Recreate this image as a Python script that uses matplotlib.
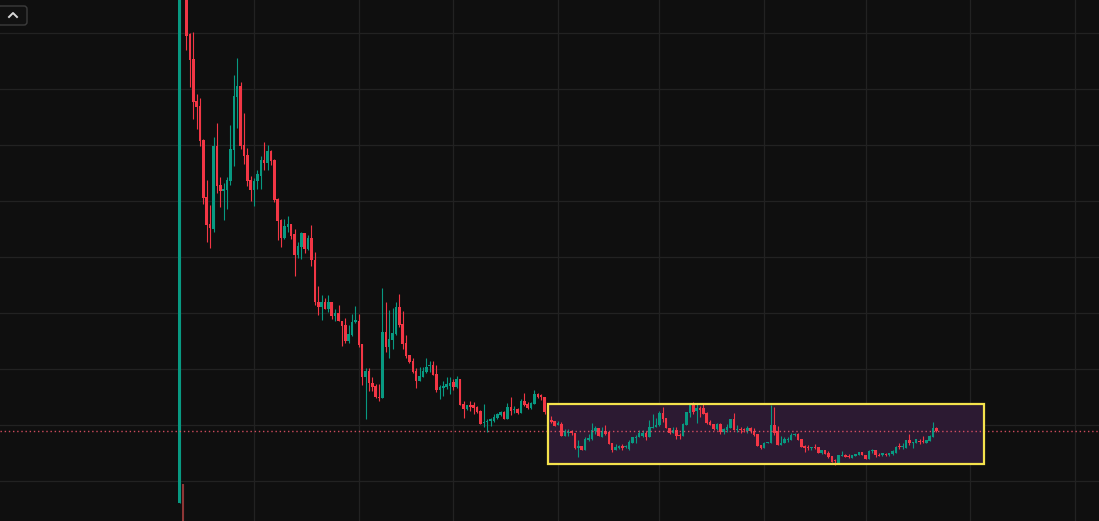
import numpy as np
import pandas as pd
import matplotlib
matplotlib.use('Agg')
import matplotlib.pyplot as plt
import matplotlib.dates as mdates
import matplotlib.patches as mpatches
import matplotlib.lines as mlines
from matplotlib.transforms import IdentityTransform

# daily candles, first one on 2022-12-10 (price in chart units)
start_date = '2022-12-10'
opens = [18, 37, 526, 487, 462, 420, 415, 381, 324, 297, 292, 375, 336, 330, 331, 340, 371, 424, 435, 376,
         366, 341, 331, 340, 345, 361, 358, 370, 361, 322, 301, 283, 294, 297, 287, 266, 274, 288, 272, 283,
         261, 219, 214, 219, 212, 219, 205, 208, 200, 196, 180, 186, 199, 200, 177, 144, 150, 138, 135, 124,
         123, 189, 174, 181, 187, 214, 197, 178, 166, 160, 150, 140, 144, 149, 155, 156, 147, 131, 133, 134,
         135, 139, 134, 142, 117, 112, 116, 116, 114, 110, 98, 99, 100, 100, 103, 106, 109, 102, 114, 111,
         112, 108, 120, 117, 113, 117, 127, 126, 124, 110, 101, 100, 96, 97, 85, 88, 90, 88, 73, 75,
         71, 81, 82, 90, 93, 84, 90, 89, 78, 71, 73, 75, 74, 72, 78, 83, 84, 85, 88, 84,
         93, 94, 96, 108, 103, 93, 88, 91, 86, 85, 96, 108, 116, 110, 113, 113, 108, 99, 97, 92,
         97, 89, 91, 93, 102, 91, 92, 92, 90, 93, 90, 87, 76, 73, 78, 78, 96, 90, 76, 78,
         81, 81, 86, 87, 82, 75, 74, 73, 74, 74, 68, 71, 68, 65, 61, 58, 65, 66, 65, 63,
         65, 66, 69, 66, 62, 70, 71, 66, 66, 67, 66, 67, 68, 75, 74, 73, 81, 78, 78, 80,
         80, 78, 80, 84, 93]
highs = [560, 37, 530, 488, 489, 427, 423, 382, 341, 316, 384, 398, 344, 338, 344, 396, 446, 463, 439, 408,
         373, 345, 343, 351, 365, 379, 376, 371, 362, 323, 302, 302, 305, 297, 292, 279, 289, 288, 286, 296,
         269, 235, 226, 223, 226, 219, 212, 216, 200, 203, 196, 207, 215, 207, 177, 153, 153, 144, 137, 137,
         233, 219, 211, 213, 219, 227, 210, 186, 166, 163, 153, 154, 154, 163, 160, 160, 156, 136, 140, 144,
         144, 142, 145, 142, 120, 116, 120, 119, 115, 111, 117, 102, 103, 107, 108, 110, 110, 118, 124, 115,
         113, 122, 128, 119, 119, 131, 128, 127, 124, 110, 105, 100, 100, 99, 92, 92, 91, 88, 81, 75,
         84, 87, 98, 95, 93, 94, 96, 89, 78, 77, 76, 77, 76, 81, 84, 86, 91, 91, 90, 101,
         107, 103, 110, 114, 103, 93, 94, 94, 88, 98, 109, 118, 119, 118, 115, 118, 109, 101, 97, 98,
         98, 93, 97, 102, 108, 96, 94, 93, 95, 94, 93, 87, 76, 79, 79, 116, 114, 95, 85, 84,
         84, 88, 88, 88, 82, 76, 76, 74, 77, 74, 71, 71, 70, 65, 62, 66, 70, 67, 67, 66,
         67, 69, 69, 66, 71, 72, 71, 68, 68, 68, 68, 71, 75, 78, 78, 81, 87, 79, 82, 82,
         85, 81, 86, 99, 94]
lows = [18, -30, 471, 434, 402, 392, 375, 317, 279, 273, 289, 328, 314, 301, 312, 336, 355, 393, 372, 357,
        335, 320, 315, 332, 332, 351, 351, 356, 319, 281, 274, 282, 289, 282, 245, 263, 262, 268, 271, 255,
        216, 206, 201, 212, 209, 202, 200, 200, 175, 178, 178, 185, 198, 174, 136, 102, 130, 130, 123, 120,
        123, 169, 163, 172, 186, 194, 172, 163, 158, 148, 133, 140, 144, 148, 149, 146, 129, 122, 125, 132,
        127, 131, 133, 116, 103, 111, 110, 107, 108, 97, 94, 89, 95, 99, 102, 105, 102, 102, 106, 108,
        107, 108, 115, 112, 112, 117, 123, 121, 107, 99, 98, 95, 96, 85, 85, 85, 86, 72, 64, 71,
        71, 80, 81, 87, 85, 84, 86, 77, 69, 71, 72, 71, 73, 71, 78, 78, 84, 84, 81, 84,
        93, 94, 95, 99, 93, 87, 88, 82, 82, 85, 96, 104, 107, 98, 104, 107, 97, 96, 91, 91,
        87, 87, 89, 93, 91, 89, 88, 89, 88, 88, 85, 75, 72, 73, 78, 78, 86, 76, 76, 78,
        79, 81, 85, 81, 74, 69, 71, 71, 72, 68, 67, 67, 63, 59, 56, 58, 65, 64, 63, 63,
        65, 66, 66, 62, 62, 68, 64, 65, 65, 65, 65, 66, 68, 72, 72, 73, 76, 73, 78, 77,
        78, 78, 80, 84, 89]
closes = [560, -30, 485, 461, 419, 414, 380, 323, 296, 293, 375, 335, 330, 332, 341, 372, 425, 435, 375, 365,
          340, 331, 340, 347, 361, 358, 370, 360, 321, 300, 283, 295, 297, 285, 266, 275, 288, 272, 283, 261,
          219, 214, 219, 212, 219, 205, 208, 200, 195, 180, 187, 199, 201, 176, 144, 150, 138, 134, 124, 123,
          189, 174, 182, 188, 214, 196, 177, 165, 159, 149, 140, 145, 150, 154, 156, 146, 131, 134, 135, 137,
          138, 134, 142, 116, 112, 116, 114, 113, 109, 97, 99, 100, 102, 104, 107, 109, 102, 114, 110, 112,
          108, 120, 116, 113, 118, 127, 124, 124, 109, 100, 99, 95, 98, 85, 90, 89, 88, 73, 75, 71,
          82, 83, 91, 93, 85, 90, 87, 77, 71, 74, 75, 73, 75, 79, 84, 84, 88, 88, 84, 94,
          94, 96, 108, 102, 93, 88, 91, 85, 85, 97, 109, 116, 109, 113, 111, 107, 98, 96, 92, 97,
          89, 92, 94, 102, 91, 92, 91, 91, 93, 90, 86, 75, 73, 78, 79, 96, 88, 76, 78, 82,
          82, 86, 87, 81, 74, 73, 73, 74, 73, 68, 71, 67, 64, 59, 60, 66, 66, 64, 64, 66,
          67, 69, 66, 62, 70, 71, 66, 65, 68, 66, 68, 70, 74, 74, 75, 81, 78, 79, 82, 79,
          79, 81, 85, 93, 90]

price_grid = [40, 96, 152, 208, 264, 320, 376, 432, 488]
box_start, box_end = '2023-03-29', '2023-08-05'
box_low, box_high = 57, 117

bg = '#0f0f0f'
grid_c = '#222222'
up_c = '#089981'
down_c = '#f23645'

o = np.array(opens, float)
h = np.array(highs, float)
l = np.array(lows, float)
c = np.array(closes, float)
dates = pd.date_range(start_date, periods=len(o), freq='D')
x = mdates.date2num(dates)

fig = plt.figure(figsize=(10.99, 5.21), dpi=100, facecolor=bg)
ax = fig.add_axes([0, 0, 1, 1], facecolor=bg)

jan1 = mdates.date2num(pd.Timestamp('2023-01-01'))
ax.set_xlim(jan1 - 75.2, jan1 + 250.1)
ax.set_ylim(0, 521)

for m in pd.date_range('2023-01-01', '2023-09-01', freq='MS'):
    ax.axvline(mdates.date2num(m), color=grid_c, lw=0.9, zorder=0)
for p in price_grid:
    ax.axhline(p, color=grid_c, lw=0.9, zorder=0)

# highlighted range box
bx0 = mdates.date2num(pd.Timestamp(box_start))
bx1 = mdates.date2num(pd.Timestamp(box_end))
ax.add_patch(mpatches.Rectangle((bx0, box_low), bx1 - bx0, box_high - box_low,
                                facecolor='#2c1a32', edgecolor='none', zorder=1))
ax.add_patch(mpatches.Rectangle((bx0, box_low), bx1 - bx0, box_high - box_low,
                                facecolor='none', edgecolor='#f4e24c', lw=1.6, zorder=6))

cols = np.where(c >= o, up_c, down_c)
cols[1] = '#8e3636'  # listing-day candle is drawn dimmer
ax.vlines(x, l, h, colors=cols, lw=0.8, zorder=3)
ax.bar(x, np.maximum(np.abs(c - o), 0.9), bottom=np.minimum(o, c), width=0.75,
       color=cols, lw=0, zorder=4)

# last price line
ax.axhline(c[-1], color='#f0566a', lw=1.0, alpha=0.85, linestyle=(0, (1, 2)), zorder=5)

for s in ax.spines.values():
    s.set_visible(False)
ax.set_xticks([])
ax.set_yticks([])

# small collapse button, top left
btn = mpatches.FancyBboxPatch((-3, 496), 30, 19, boxstyle='round,pad=0,rounding_size=3',
                              facecolor='#111111', edgecolor='#3c3c3c', lw=1,
                              transform=IdentityTransform(), figure=fig)
fig.patches.append(btn)
chev = mlines.Line2D([9, 13, 17], [504, 508, 504], color='#d8d8d8', lw=1.4,
                     transform=IdentityTransform(), figure=fig)
fig.lines.append(chev)

fig.savefig('out.png', dpi=100, facecolor=bg)
